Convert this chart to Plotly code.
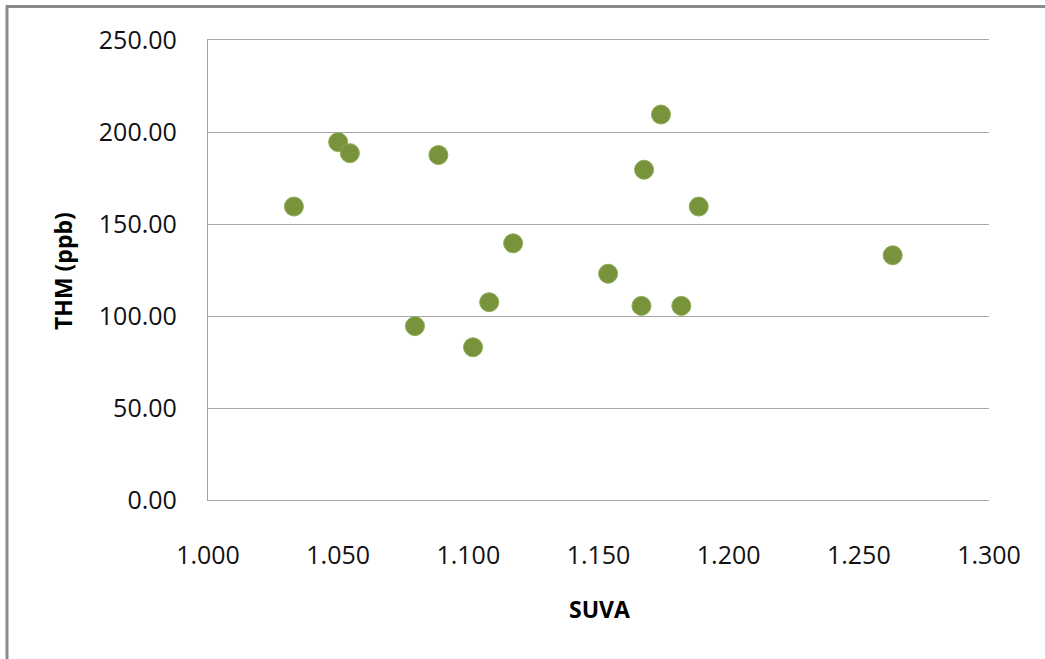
import plotly.graph_objects as go

# SUVA vs THM samples
suva = [1.033, 1.050, 1.0545, 1.0795, 1.0885, 1.1018, 1.108, 1.1172,
        1.1537, 1.1665, 1.1675, 1.174, 1.1818, 1.1885, 1.263]
thm = [159.5, 194.5, 188.5, 94.5, 187.5, 83.0, 107.5, 139.5,
       123.0, 105.5, 179.5, 209.5, 105.5, 159.5, 133.0]

y_ticks = [0, 50, 100, 150, 200, 250]
x_ticks = [1.000, 1.050, 1.100, 1.150, 1.200, 1.250, 1.300]

W, H = 1045, 659
L, R, T, B = 208, 56, 40, 159
pw, ph = W - L - R, H - T - B


def px_x(p):
    return (p - L) / pw


def px_y(p):
    return (H - B - p) / ph


fig = go.Figure(
    go.Scatter(
        x=suva, y=thm, mode="markers",
        marker=dict(size=19, color="#77933C",
                    line=dict(width=1, color="#8fab55")),
        showlegend=False,
    )
)

tick_font = dict(family="Open Sans, sans-serif", size=25, color="#111111")
title_font = dict(family="Open Sans, sans-serif", size=23, color="#000000")

fig.update_layout(
    width=W, height=H,
    margin=dict(l=L, r=R, t=T, b=B, pad=0),
    paper_bgcolor="white", plot_bgcolor="white",
    xaxis=dict(
        range=[1.0, 1.3], tickvals=x_ticks, tickformat=".3f",
        showgrid=False, zeroline=False,
        showline=True, mirror=True, linecolor="#a6a6a6", linewidth=1.3,
        ticks="", ticklabelstandoff=33, tickfont=tick_font,
    ),
    yaxis=dict(
        range=[0, 250], tickvals=y_ticks, tickformat=".2f",
        showgrid=True, gridcolor="#a6a6a6", gridwidth=1.3,
        zeroline=False,
        showline=True, linecolor="#a0a0a0", linewidth=1.3,
        ticks="", ticklabelstandoff=25, tickfont=tick_font,
    ),
    annotations=[
        dict(text="<b>SUVA</b>", xref="paper", yref="paper",
             x=px_x(599), y=px_y(609), showarrow=False,
             xanchor="center", yanchor="middle", font=title_font),
        dict(text="<b>THM (ppb)</b>", xref="paper", yref="paper",
             x=px_x(63), y=px_y(271), showarrow=False, textangle=-90,
             xanchor="center", yanchor="middle", font=title_font),
    ],
    shapes=[
        dict(type="rect", xref="paper", yref="paper",
             x0=px_x(7), x1=px_x(W + 10), y0=px_y(H + 10), y1=px_y(6.5),
             line=dict(color="#8a8a8a", width=3), fillcolor="rgba(0,0,0,0)",
             layer="below"),
    ],
)

fig.write_html("out.html")
